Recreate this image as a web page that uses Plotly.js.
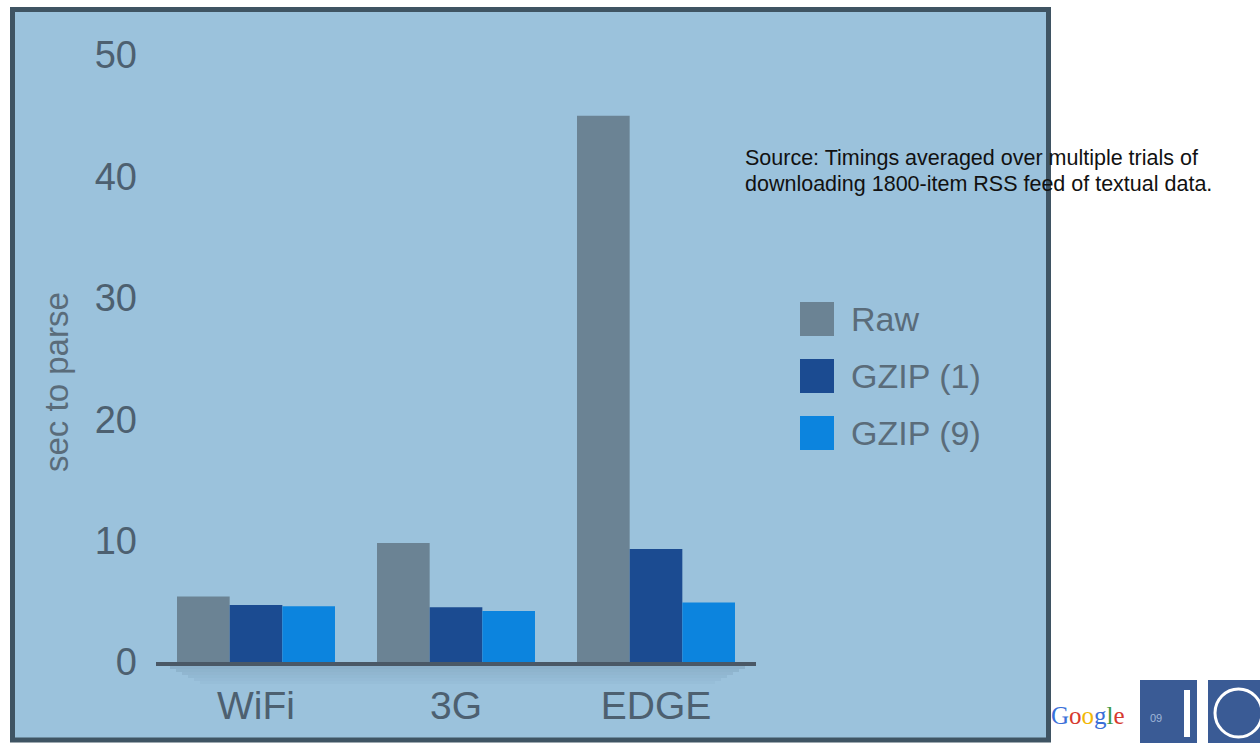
<!DOCTYPE html>
<html>
<head>
<meta charset="utf-8">
<script src="https://cdn.plot.ly/plotly-3.0.1.min.js"></script>
<style>html,body{margin:0;padding:0;background:#fff;}#chart{width:1260px;height:743px;}</style>
</head>
<body>
<div id="chart"></div>
<script>
const categories = ['WiFi', '3G', 'EDGE'];
const seriesNames = ['Raw', 'GZIP (1)', 'GZIP (9)'];
const rawValues = [5.4, 9.8, 45];
const gzip1Values = [4.7, 4.5, 9.3];
const gzip9Values = [4.6, 4.2, 4.9];
const yTickValues = [0, 10, 20, 30, 40, 50];
const sourceLines = ['Source: Timings averaged over multiple trials of', 'downloading 1800-item RSS feed of textual data.'];
const yTitle = 'sec to parse';

const seriesColors = ['#6b8394', '#1b4b91', '#0c84de'];
const seriesValues = [rawValues, gzip1Values, gzip9Values];

const W = 1260, H = 743;
const M = {l: 156, r: 504, t: 55, b: 81};
const PW = W - M.l - M.r, PH = H - M.t - M.b;
const px = x => (x - M.l) / PW;
const py = y => (H - M.b - y) / PH;

const traces = seriesNames.map((name, i) => ({
  type: 'bar',
  name: name,
  x: categories,
  y: seriesValues[i],
  marker: {color: seriesColors[i], line: {width: 0}},
  showlegend: false,
  hoverinfo: 'x+y+name'
}));

const tickColor = '#4d6070';
const shapes = [
  // panel background
  {type: 'rect', xref: 'paper', yref: 'paper', layer: 'below',
   x0: px(12.5), x1: px(1048.5), y0: py(740), y1: py(9.5),
   fillcolor: '#9bc2dc', line: {width: 0}}
];
// soft shadow under the axis line
for (let k = 0; k < 6; k++) {
  shapes.push({type: 'rect', xref: 'paper', yref: 'paper', layer: 'below',
    x0: px(170 + k * 6), x1: px(745 - k * 6), y0: py(666 + (k + 1) * 3), y1: py(666 + k * 3),
    fillcolor: 'rgba(60,90,115,' + (0.16 - k * 0.025).toFixed(3) + ')', line: {width: 0}});
}
shapes.push(
  // panel border
  {type: 'rect', xref: 'paper', yref: 'paper', layer: 'above',
   x0: px(12.5), x1: px(1048.5), y0: py(740), y1: py(9.5),
   fillcolor: 'rgba(0,0,0,0)', line: {color: '#3f5463', width: 5}},
  // Google I/O logo boxes
  {type: 'rect', xref: 'paper', yref: 'paper', layer: 'above',
   x0: px(1140), x1: px(1197), y0: py(745), y1: py(680),
   fillcolor: '#3a5b95', line: {width: 0}},
  {type: 'rect', xref: 'paper', yref: 'paper', layer: 'above',
   x0: px(1208), x1: px(1262), y0: py(745), y1: py(680),
   fillcolor: '#3a5b95', line: {width: 0}},
  {type: 'rect', xref: 'paper', yref: 'paper', layer: 'above',
   x0: px(1184), x1: px(1190), y0: py(737), y1: py(690),
   fillcolor: '#ffffff', line: {width: 0}},
  {type: 'circle', xref: 'paper', yref: 'paper', layer: 'above',
   x0: px(1215), x1: px(1262), y0: py(737), y1: py(689),
   fillcolor: 'rgba(0,0,0,0)', line: {color: '#ffffff', width: 3}}
);

const annotations = [];
// custom legend built from series
seriesNames.forEach((name, i) => {
  const top = 302 + i * 57;
  shapes.push({type: 'rect', xref: 'paper', yref: 'paper', layer: 'above',
    x0: px(800), x1: px(834), y0: py(top + 34), y1: py(top),
    fillcolor: seriesColors[i], line: {width: 0}});
  annotations.push({xref: 'paper', yref: 'paper', x: px(849), y: py(top + 17),
    xanchor: 'left', yanchor: 'middle', showarrow: false, text: name,
    font: {family: 'Liberation Sans, Arial, sans-serif', size: 34, color: '#5a6c7a'}});
});
sourceLines.forEach((t, i) => {
  annotations.push({xref: 'paper', yref: 'paper', x: px(743), y: py(158 + i * 26),
    xanchor: 'left', yanchor: 'middle', showarrow: false, text: t,
    font: {family: 'Liberation Sans, Arial, sans-serif', size: 21.5, color: '#111111'}});
});
annotations.push({xref: 'paper', yref: 'paper', x: px(56), y: py(382),
  xanchor: 'center', yanchor: 'middle', showarrow: false, text: yTitle, textangle: -90,
  font: {family: 'Liberation Sans, Arial, sans-serif', size: 33, color: '#5a6c7a'}});
annotations.push({xref: 'paper', yref: 'paper', x: px(1049), y: py(715),
  xanchor: 'left', yanchor: 'middle', showarrow: false,
  text: '<span style="color:#3a6fd8">G</span><span style="color:#d63a2f">o</span><span style="color:#f2b807">o</span><span style="color:#3a6fd8">g</span><span style="color:#3a9a45">l</span><span style="color:#d63a2f">e</span>',
  font: {family: 'Liberation Serif, DejaVu Serif, serif', size: 25}});
annotations.push({xref: 'paper', yref: 'paper', x: px(1156), y: py(718),
  xanchor: 'center', yanchor: 'middle', showarrow: false, text: '09',
  font: {family: 'Liberation Sans, Arial, sans-serif', size: 11, color: '#9fb6d8'}});

const layout = {
  width: W, height: H,
  margin: M,
  paper_bgcolor: '#ffffff',
  plot_bgcolor: 'rgba(0,0,0,0)',
  barmode: 'group',
  bargap: 0.21,
  bargroupgap: 0,
  showlegend: false,
  xaxis: {
    type: 'category',
    showline: true, linecolor: '#4a5866', linewidth: 4,
    showgrid: false, zeroline: false, ticks: '',
    ticklabelstandoff: 6,
    tickfont: {family: 'Liberation Sans, Arial, sans-serif', size: 39, color: tickColor}
  },
  yaxis: {
    range: [0, 50],
    tickvals: yTickValues,
    showline: false, showgrid: false, zeroline: false, ticks: '',
    ticklabelstandoff: 18,
    tickfont: {family: 'Liberation Sans, Arial, sans-serif', size: 38, color: tickColor}
  },
  shapes: shapes,
  annotations: annotations
};

Plotly.newPlot('chart', traces, layout, {displayModeBar: false, staticPlot: true});
</script>
</body>
</html>
